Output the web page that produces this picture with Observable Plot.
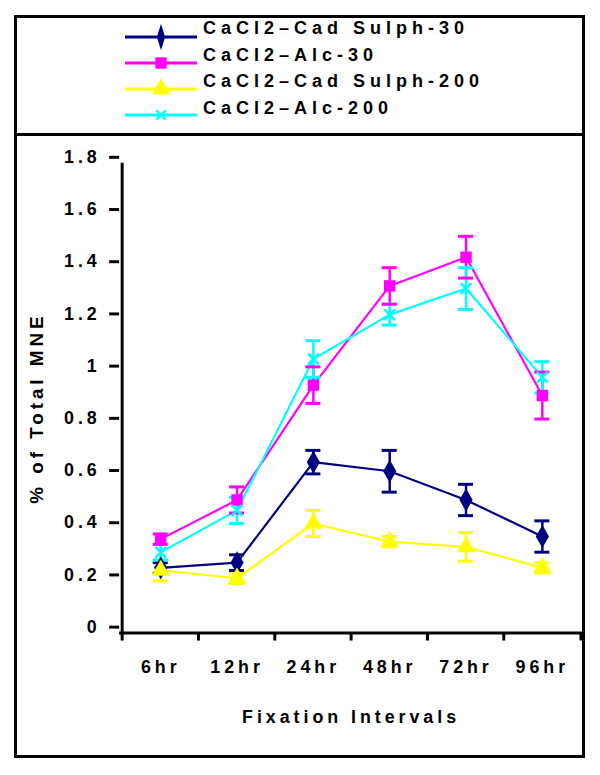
<!DOCTYPE html>
<html>
<head>
<meta charset="utf-8">
<script src="https://cdn.jsdelivr.net/npm/d3@7"></script>
<script src="https://cdn.jsdelivr.net/npm/@observablehq/plot@0.6"></script>
<style>
  body { margin: 0; background: #fff; font-family: "Liberation Sans", Arial, sans-serif; }
  #box { position: absolute; left: 14px; top: 15px; width: 565px; height: 737px; border: 3px solid #000; }
  #legend { position: relative; height: 115px; border-bottom: 3px solid #000; }
  #legend svg, #chart svg { display: block; overflow: visible; }
</style>
</head>
<body>
<div id="box">
  <div id="legend"></div>
  <div id="chart"></div>
</div>
<script>
// ---- data ----
const intervals = ["6hr", "12hr", "24hr", "48hr", "72hr", "96hr"];
const seriesNames = ["CaCl2\u2013Cad Sulph-30", "CaCl2\u2013Alc-30", "CaCl2\u2013Cad Sulph-200", "CaCl2\u2013Alc-200"];
const seriesColors = ["#000080", "#ff00ff", "#ffff00", "#00ffff"];
const sulph30 = [0.25, 0.27, 0.655, 0.62, 0.51, 0.37];
const sulph30Err = [0.02, 0.03, 0.045, 0.08, 0.06, 0.06];
const alc30 = [0.36, 0.51, 0.95, 1.33, 1.44, 0.91];
const alc30Err = [0.02, 0.05, 0.07, 0.07, 0.08, 0.09];
const sulph200 = [0.24, 0.21, 0.42, 0.35, 0.33, 0.25];
const sulph200Err = [0.04, 0.02, 0.05, 0.02, 0.055, 0.02];
const alc200 = [0.31, 0.47, 1.05, 1.22, 1.32, 0.98];
const alc200Err = [0.03, 0.05, 0.07, 0.04, 0.08, 0.06];
const yTicks = [0, 0.2, 0.4, 0.6, 0.8, 1, 1.2, 1.4, 1.6, 1.8];
const yTitle = "% of Total MNE";
const xTitle = "Fixation Intervals";

const seriesValues = [sulph30, alc30, sulph200, alc200];
const seriesErrors = [sulph30Err, alc30Err, sulph200Err, alc200Err];

const rows = [];
seriesNames.forEach((name, s) => intervals.forEach((t, i) =>
  rows.push({series: name, t, v: seriesValues[s][i], e: seriesErrors[s][i]})));

const fontFamily = "'Liberation Sans', Arial, sans-serif";

// ---- legend ----
{
  const W = 565, H = 115;
  const svg = d3.create("svg").attr("width", W).attr("height", H);
  seriesNames.forEach((name, i) => {
    const ly = 19 + i * 26;
    const ty = 10 + i * 26.5;
    const g = svg.append("g");
    g.append("line").attr("x1", 108).attr("x2", 180).attr("y1", ly).attr("y2", ly)
      .attr("stroke", seriesColors[i]).attr("stroke-width", 3);
    const type = [d3.symbolDiamond, d3.symbolSquare, d3.symbolTriangle, d3.symbolTimes][i];
    const size = [90, 130, 150, 60][i];
    const path = g.append("path").attr("d", d3.symbol(type, size)())
      .attr("transform", `translate(144,${ly})` + (i === 0 ? " scale(0.8,1.5)" : ""));
    if (i === 3) path.attr("fill", "none").attr("stroke", seriesColors[i]).attr("stroke-width", 2.5);
    else path.attr("fill", seriesColors[i]);
    g.append("text").attr("x", 186).attr("y", ty).attr("dominant-baseline", "central")
      .attr("font-family", fontFamily).attr("font-size", 18).attr("font-weight", "bold")
      .attr("letter-spacing", "5px").text(name);
  });
  document.getElementById("legend").append(svg.node());
}

// ---- chart ----
const W = 570, H = 619, mL = 103, mR = 0, mT = 27, mB = 118;
const bw = (W - mL - mR) / intervals.length;
const capInset = (bw - 16) / 2;

const chart = Plot.plot({
  width: W, height: H,
  marginLeft: mL, marginRight: mR, marginTop: mT, marginBottom: mB,
  style: {fontFamily, fontSize: "18px", fontWeight: "bold", letterSpacing: "4px", color: "#000", background: "transparent", overflow: "visible"},
  x: {type: "band", domain: intervals, padding: 0, label: null},
  y: {domain: [0, 1.8], label: null},
  color: {domain: seriesNames, range: seriesColors},
  marks: [
    Plot.axisY({ticks: yTicks, tickSize: 10, tickPadding: 9, strokeWidth: 3, dy: -6,
      tickFormat: d => String(+d.toFixed(1))}),
    Plot.axisX({tickSize: 0, tickPadding: 27}),
    // tick marks at band boundaries
    Plot.ruleX(intervals, {x: d => d, dx: -bw / 2, y1: 0, y2: 0, insetBottom: -8, strokeWidth: 3}),
    Plot.ruleX([intervals[intervals.length - 1]], {x: d => d, dx: bw / 2, y1: 0, y2: 0, insetBottom: -8, strokeWidth: 3}),
    // axis lines
    Plot.ruleY([0], {strokeWidth: 3}),
    Plot.ruleX([intervals[0]], {x: d => d, dx: -bw / 2, strokeWidth: 3}),
    // lines
    Plot.line(rows, {x: "t", y: "v", z: "series", stroke: "series", strokeWidth: 2.2}),
    // error bars
    Plot.ruleX(rows, {x: "t", y1: d => d.v - d.e, y2: d => d.v + d.e, stroke: "series", strokeWidth: 2.5}),
    Plot.tickY(rows, {x: "t", y: d => d.v + d.e, stroke: "series", strokeWidth: 3, insetLeft: capInset, insetRight: capInset}),
    Plot.tickY(rows, {x: "t", y: d => d.v - d.e, stroke: "series", strokeWidth: 3, insetLeft: capInset, insetRight: capInset}),
    // markers
    Plot.dot(rows.filter(d => d.series === seriesNames[0]), {x: "t", y: "v", fill: "series", symbol: "diamond", r: 7}),
    Plot.dot(rows.filter(d => d.series === seriesNames[1]), {x: "t", y: "v", fill: "series", symbol: "square", r: 6.5}),
    Plot.dot(rows.filter(d => d.series === seriesNames[2]), {x: "t", y: "v", fill: "series", symbol: "triangle", r: 7}),
    Plot.dot(rows.filter(d => d.series === seriesNames[3]), {x: "t", y: "v", stroke: "series", symbol: "times", r: 5, strokeWidth: 2.5}),
    // titles
    Plot.text([yTitle], {frameAnchor: "left", dx: -(mL - 20), dy: 10, rotate: -90, textAnchor: "middle", lineAnchor: "middle",
      fontSize: 19, fontWeight: "bold", letterSpacing: "6px"}),
    Plot.text([xTitle], {frameAnchor: "bottom", dy: 85, textAnchor: "middle", lineAnchor: "middle",
      fontSize: 18, fontWeight: "bold", letterSpacing: "5px"})
  ]
});
document.getElementById("chart").append(chart);
</script>
</body>
</html>
